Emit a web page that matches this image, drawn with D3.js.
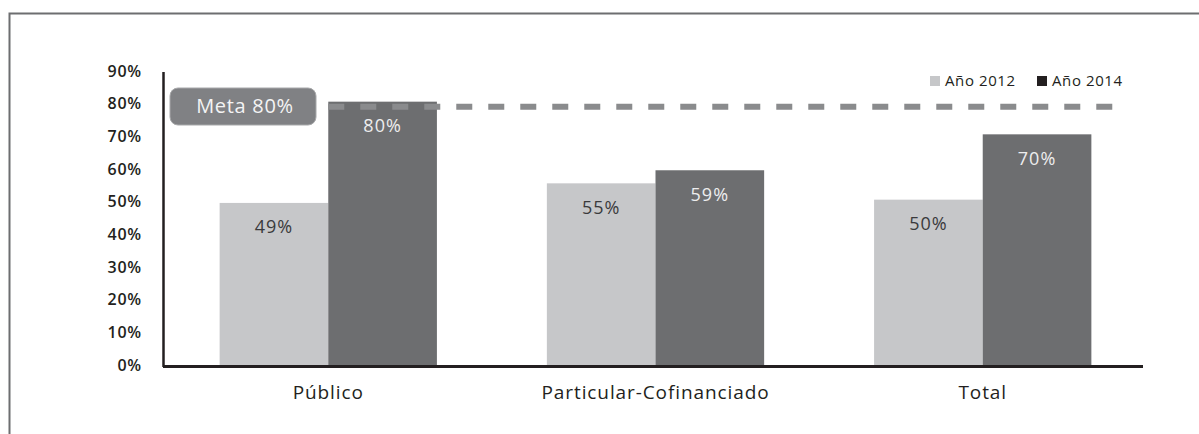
<!DOCTYPE html>
<html>
<head>
<meta charset="utf-8">
<script src="https://cdn.jsdelivr.net/npm/d3@7"></script>
<style>
  html, body { margin: 0; padding: 0; background: #fff; }
  svg { display: block; }
  text { font-family: "Open Sans", "Noto Sans", sans-serif; }
</style>
</head>
<body>
<svg id="chart" width="1199" height="434"></svg>
<script>
// Cobertura por dependencia, años 2012 y 2014
const categories = ["Público", "Particular-Cofinanciado", "Total"];
const seriesNames = ["Año 2012", "Año 2014"];
const values2012 = [0.49, 0.55, 0.50];
const values2014 = [0.80, 0.59, 0.70];
const yTicks = [0, 0.1, 0.2, 0.3, 0.4, 0.5, 0.6, 0.7, 0.8, 0.9];
const metaValue = 0.80;
const metaLabel = "Meta 80%";

const colors = { "Año 2012": "#c6c7c9", "Año 2014": "#6d6e70" };
const labelColors = { "Año 2012": "#3a3a3c", "Año 2014": "#ededee" };
const legendColors = { "Año 2012": "#c6c7c9", "Año 2014": "#231f20" };

const svg = d3.select("#chart");
const W = 1199, H = 434;

// outer frame (top and left edges)
svg.append("path")
  .attr("d", `M9.5,${H} V13.5 H${W}`)
  .attr("fill", "none")
  .attr("stroke", "#6d6e70")
  .attr("stroke-width", 2);

const x0 = d3.scaleBand().domain(categories).range([164, 1147])
  .paddingInner(0.336).paddingOuter(0.17);
const x1 = d3.scaleBand().domain(seriesNames).range([0, x0.bandwidth()]);
const y = d3.scaleLinear().domain([0, 0.9]).range([363, 69]);

const fmt = d3.format(".0%");

// bars
const rows = categories.map((c, i) => ({
  cat: c,
  vals: [
    { s: "Año 2012", v: values2012[i] },
    { s: "Año 2014", v: values2014[i] }
  ]
}));

const groups = svg.append("g").selectAll("g").data(rows).join("g")
  .attr("transform", d => `translate(${x0(d.cat)},0)`);

groups.selectAll("rect").data(d => d.vals).join("rect")
  .attr("x", d => x1(d.s))
  .attr("y", d => y(d.v))
  .attr("width", x1.bandwidth())
  .attr("height", d => y(0) - y(d.v) + 2)
  .attr("fill", d => colors[d.s]);

groups.selectAll("text.val").data(d => d.vals).join("text")
  .attr("class", "val")
  .attr("x", d => x1(d.s) + x1.bandwidth() / 2)
  .attr("y", d => y(d.v) + 24)
  .attr("dy", "0.35em")
  .attr("text-anchor", "middle")
  .attr("font-size", 18)
  .attr("letter-spacing", 1)
  .attr("fill", d => labelColors[d.s])
  .text(d => fmt(d.v));

// goal line, dashed, drawn just under the goal value
const metaY = y(metaValue) + 5;
svg.append("line")
  .attr("x1", x0(categories[0]) + x1(seriesNames[1]))
  .attr("x2", 1123)
  .attr("y1", metaY).attr("y2", metaY)
  .attr("stroke", "#8a8b8d")
  .attr("stroke-width", 6)
  .attr("stroke-dasharray", "16,16");

// goal badge
const badge = svg.append("g");
badge.append("rect")
  .attr("x", 170).attr("y", 88)
  .attr("width", 146).attr("height", 37)
  .attr("rx", 8).attr("ry", 8)
  .attr("fill", "#808184")
  .attr("stroke", "#a7a8aa")
  .attr("stroke-width", 1);
badge.append("text")
  .attr("x", 245).attr("y", 106)
  .attr("dy", "0.35em")
  .attr("text-anchor", "middle")
  .attr("font-size", 20)
  .attr("letter-spacing", 0.7)
  .attr("fill", "#f4f4f4")
  .text(metaLabel);

// y axis
const yAxis = d3.axisLeft(y).tickValues(yTicks).tickFormat(fmt).tickSize(0).tickPadding(0);
const gy = svg.append("g").attr("transform", "translate(142,2)").call(yAxis);
gy.select(".domain").remove();
gy.selectAll("text")
  .attr("font-size", 16)
  .attr("font-weight", 600)
  .attr("letter-spacing", 0.8)
  .attr("font-family", "'Open Sans', sans-serif")
  .attr("fill", "#231f20");

svg.append("line")
  .attr("x1", 163.5).attr("x2", 163.5)
  .attr("y1", 72).attr("y2", 367)
  .attr("stroke", "#231f20").attr("stroke-width", 2.5);

// x axis
const xAxis = d3.axisBottom(x0).tickSize(0).tickPadding(0);
const gx = svg.append("g").attr("transform", "translate(0,366)").call(xAxis);
gx.select(".domain")
  .attr("d", "M163,0.5H1143")
  .attr("stroke", "#231f20")
  .attr("stroke-width", 3);
gx.selectAll("text")
  .attr("y", 26)
  .attr("dy", "0.35em")
  .attr("font-size", 19)
  .attr("letter-spacing", 0.9)
  .attr("font-family", "'Open Sans', sans-serif")
  .attr("fill", "#231f20");

// legend
const legend = svg.append("g").selectAll("g").data(seriesNames).join("g")
  .attr("transform", (d, i) => `translate(${[930, 1037][i]},76)`);
legend.append("rect")
  .attr("width", 10).attr("height", 10)
  .attr("fill", d => legendColors[d]);
legend.append("text")
  .attr("x", 15).attr("y", 5)
  .attr("dy", "0.35em")
  .attr("font-size", 15)
  .attr("letter-spacing", 0.6)
  .attr("fill", "#231f20")
  .text(d => d);
</script>
</body>
</html>
